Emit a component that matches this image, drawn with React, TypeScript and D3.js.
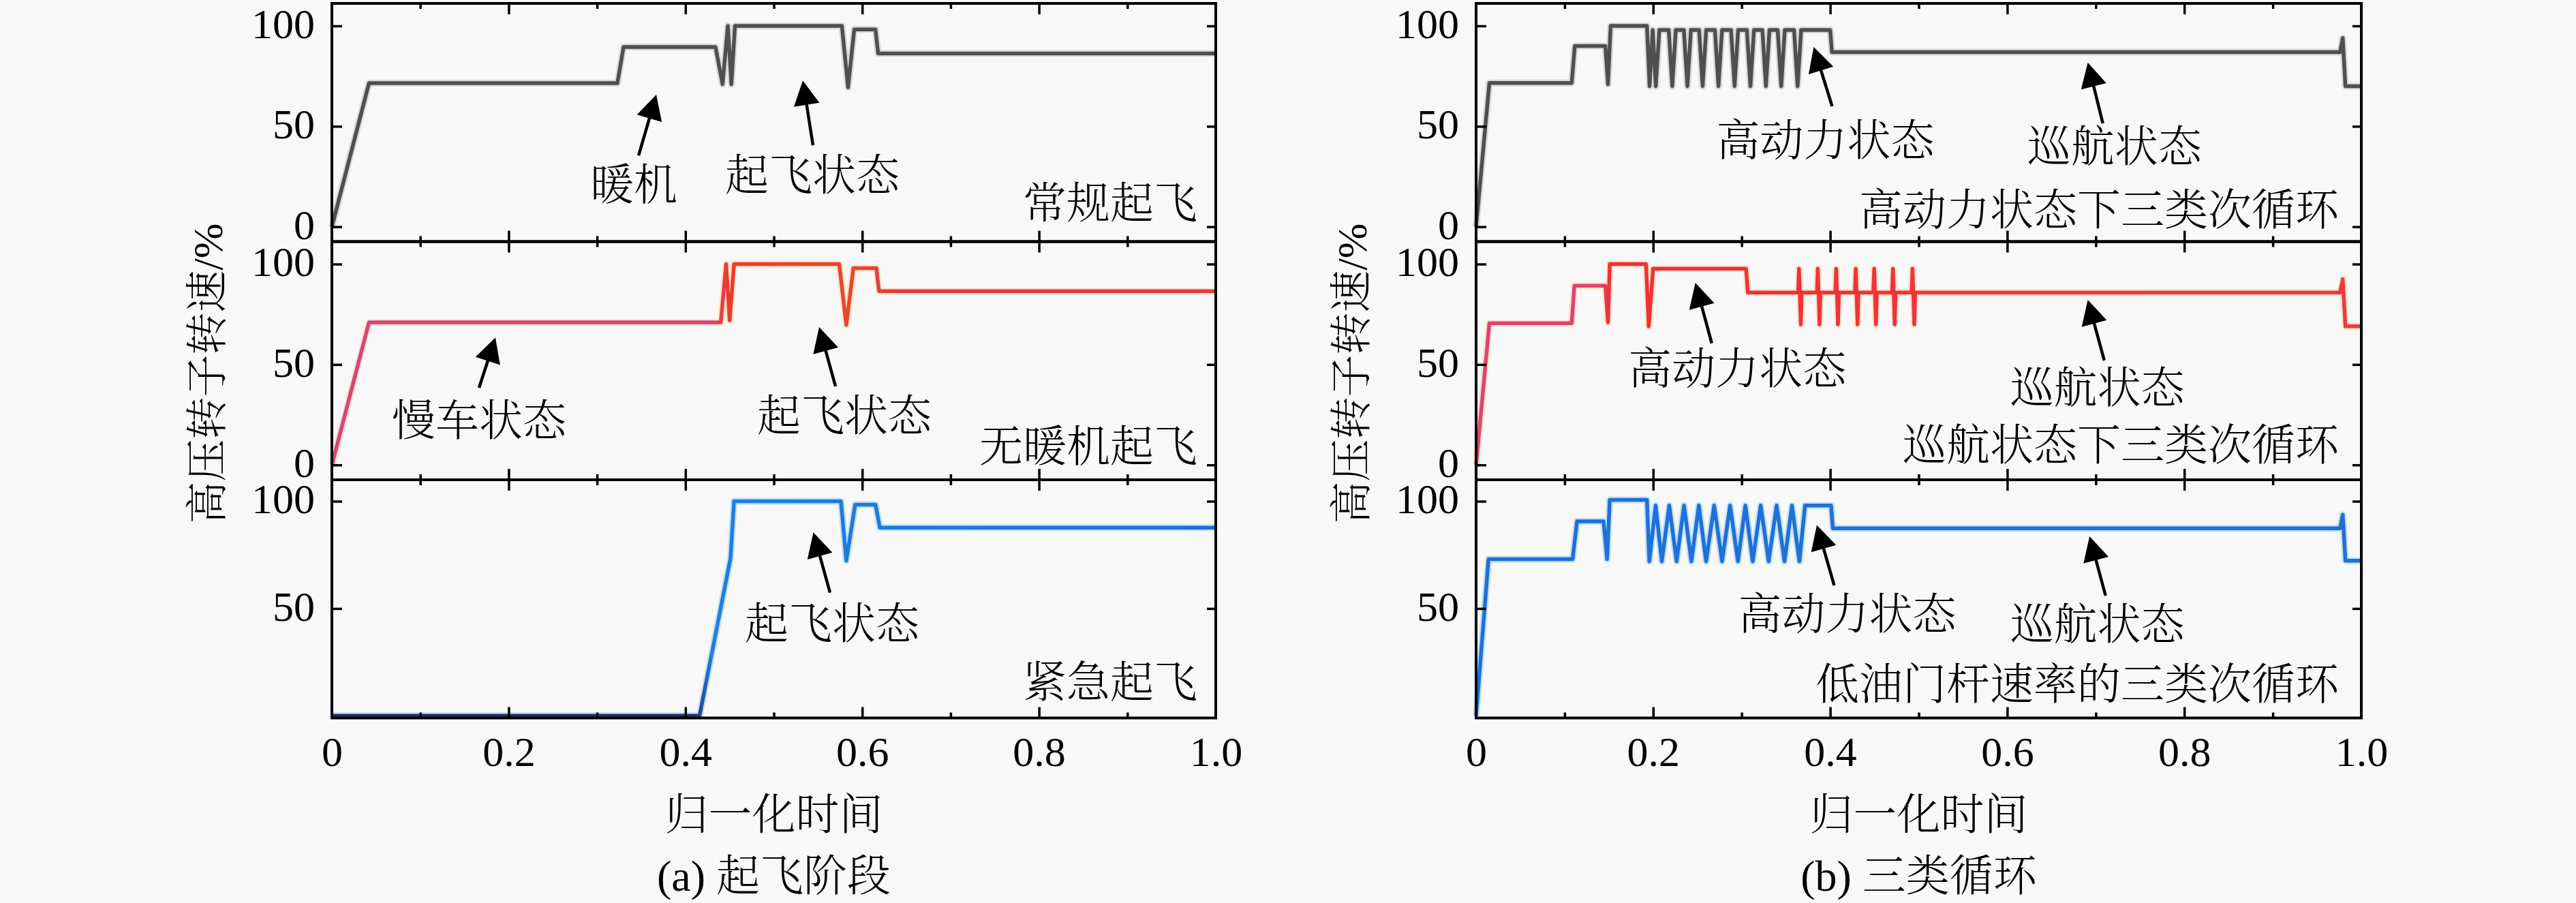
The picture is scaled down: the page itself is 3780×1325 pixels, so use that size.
import React, { useEffect, useRef } from 'react'
import * as d3 from 'd3'

type Pt = [number, number]

interface Note {
  text: string
  x: number
  y: number
  tail: Pt
  tip: Pt
}

const W = 3780
const H = 1325

const xTickValues = [0, 0.2, 0.4, 0.6, 0.8, 1.0]
const xTickLabels = ['0', '0.2', '0.4', '0.6', '0.8', '1.0']
const xMinorValues = [0.1, 0.3, 0.5, 0.7, 0.9]
const yTicksFull = [0, 50, 100]
const yTicksUpper = [50, 100]

const yLabel = '高压转子转速/%'
const xLabel = '归一化时间'
const subTitles = ['(a) 起飞阶段', '(b) 三类循环']

// (a) 起飞阶段
const normalTakeoff: Pt[] = [
  [0, 0], [0.042, 71.5], [0.323, 71.5], [0.33, 89.5], [0.434, 89.5],
  [0.442, 71], [0.448, 100], [0.452, 71], [0.456, 100], [0.577, 100],
  [0.584, 69.4], [0.591, 98.2], [0.615, 98.2], [0.618, 86.3], [1, 86.3]
]

const noWarmupTakeoff: Pt[] = [
  [0, 0], [0.042, 71], [0.44, 71], [0.446, 100], [0.45, 72], [0.455, 100],
  [0.574, 100], [0.582, 69.7], [0.59, 98], [0.616, 98], [0.619, 86.5], [1, 86.5]
]

const emergencyTakeoff: Pt[] = [
  [0, 0], [0.416, 0], [0.451, 73.5], [0.455, 100], [0.576, 100], [0.582, 72.3],
  [0.592, 98.4], [0.615, 98.4], [0.62, 87.7], [1, 87.7]
]

// (b) 三类循环
const highPowerSub: Pt[] = [
  [0, 0], [0.015, 71.6], [0.108, 71.6], [0.1115, 90], [0.146, 90], [0.149, 71],
  [0.152, 100], [0.193, 100], [0.196, 70], [0.1995, 98], [0.203, 70], [0.207, 98],
  [0.2176, 98], [0.2216, 70], [0.2256, 98],
  [0.2347, 98], [0.2387, 70], [0.2427, 98],
  [0.2519, 98], [0.2559, 70], [0.2599, 98],
  [0.2698, 98], [0.2738, 70], [0.2778, 98],
  [0.288, 98], [0.292, 70], [0.296, 98],
  [0.3059, 98], [0.3099, 70], [0.3139, 98],
  [0.3234, 98], [0.3274, 70], [0.3314, 98],
  [0.3407, 98], [0.3447, 70], [0.3487, 98],
  [0.3592, 98], [0.3632, 70], [0.3672, 98],
  [0.4, 98], [0.402, 86.9], [0.976, 86.9], [0.979, 94], [0.982, 70], [1, 70]
]

const cruiseSub: Pt[] = [
  [0, 0], [0.015, 70.6], [0.108, 70.6], [0.111, 89.2], [0.146, 89.2], [0.149, 71],
  [0.151, 100], [0.192, 100], [0.195, 69], [0.2, 97.7], [0.305, 97.7], [0.307, 85.8],
  [0.3638, 85.8], [0.3648, 97.7], [0.3668, 70], [0.3678, 85.8],
  [0.385, 85.8], [0.386, 97.7], [0.388, 70], [0.389, 85.8],
  [0.4058, 85.8], [0.4068, 97.7], [0.4088, 70], [0.4098, 85.8],
  [0.4279, 85.8], [0.4289, 97.7], [0.4309, 70], [0.4319, 85.8],
  [0.4487, 85.8], [0.4497, 97.7], [0.4517, 70], [0.4527, 85.8],
  [0.4699, 85.8], [0.4709, 97.7], [0.4729, 70], [0.4739, 85.8],
  [0.492, 85.8], [0.493, 97.7], [0.495, 70], [0.496, 85.8],
  [0.976, 85.8], [0.979, 92.5], [0.982, 69], [1, 69]
]

const lowThrottleSub: Pt[] = [
  [0, 0], [0.014, 73], [0.109, 73], [0.114, 90.6], [0.144, 90.6], [0.148, 73],
  [0.151, 100.6], [0.193, 100.6],
  [0.1957, 72], [0.2028, 98], [0.2098, 72], [0.2182, 98], [0.2265, 72], [0.2349, 98],
  [0.2432, 72], [0.2516, 98], [0.2599, 72], [0.2689, 98], [0.2779, 72], [0.2869, 98],
  [0.2958, 72], [0.3042, 98], [0.3125, 72], [0.3215, 98], [0.3305, 72], [0.3395, 98],
  [0.3484, 72], [0.3568, 98], [0.3652, 72], [0.3716, 98],
  [0.401, 98], [0.403, 87.4], [0.976, 87.4], [0.979, 93.7], [0.982, 72.3], [1, 72.3]
]

const titlesA = ['常规起飞', '无暖机起飞', '紧急起飞']
const titleLevelsA = [12.1, 9.6, 16]
const titlesB = ['高动力状态下三类次循环', '巡航状态下三类次循环', '低油门杆速率的三类次循环']
const titleLevelsB = [8.7, 10.2, 15]

const notesNormal: Note[] = [
  { text: '暖机', x: 0.3416, y: 21.2, tail: [0.347, 35.5], tip: [0.367, 65.7] },
  { text: '起飞状态', x: 0.5436, y: 26, tail: [0.5443, 40.6], tip: [0.5328, 72.8] }
]
const notesNoWarmup: Note[] = [
  { text: '慢车状态', x: 0.1665, y: 22.5, tail: [0.1665, 38.4], tip: [0.185, 63.4] },
  { text: '起飞状态', x: 0.5798, y: 24.8, tail: [0.5698, 39.1], tip: [0.5513, 68.6] }
]
const notesEmergency: Note[] = [
  { text: '起飞状态', x: 0.566, y: 43.3, tail: [0.5636, 57.4], tip: [0.5447, 85.5] }
]
const notesHighPower: Note[] = [
  { text: '高动力状态', x: 0.3945, y: 43.3, tail: [0.4022, 60], tip: [0.3814, 89.5] },
  { text: '巡航状态', x: 0.7211, y: 40.3, tail: [0.708, 51.5], tip: [0.691, 81.8] }
]
const notesCruise: Note[] = [
  { text: '高动力状态', x: 0.2951, y: 48.3, tail: [0.2662, 60.6], tip: [0.2477, 90.7] },
  { text: '巡航状态', x: 0.7018, y: 38.8, tail: [0.7096, 52], tip: [0.691, 82.2] }
]
const notesLowThrottle: Note[] = [
  { text: '高动力状态', x: 0.4191, y: 47.8, tail: [0.4045, 60.8], tip: [0.3849, 88.9] },
  { text: '巡航状态', x: 0.7018, y: 43, tail: [0.7111, 56], tip: [0.693, 83.6] }
]

const GRAY = '#4f4f4f'
const stopsGray: [number, string][] = [[0, GRAY], [1, GRAY]]
const stopsRedA: [number, string][] = [
  [0, '#d8447c'], [0.43, '#d8447c'], [0.45, '#ee3a24'], [0.6, '#e9482a'], [0.63, '#e23c44'], [1, '#e23c44']
]
const stopsBlueA: [number, string][] = [
  [0, '#2c2a70'], [0.41, '#2c2a70'], [0.43, '#1e7fe0'], [1, '#1c6fd4']
]
const stopsRedB: [number, string][] = [
  [0, '#dc4478'], [0.14, '#dc4478'], [0.15, '#f03038'], [1, '#ee3a3e']
]
const stopsBlueB: [number, string][] = [[0, '#1f70d8'], [1, '#1f70d8']]

const PANEL_TOP = 5
const PANEL_H = 349.5
const SERIF = "'Liberation Serif', 'Times New Roman', serif"
const CJK = "'Liberation Serif', 'Noto Serif CJK SC', 'Noto Sans CJK SC', serif"

const charts = [
  {
    left: 487, right: 1784,
    panels: [
      { series: normalTakeoff, stops: stopsGray, halo: '#d8d8d8', notes: notesNormal, title: titlesA[0], titleY: titleLevelsA[0], yTicks: yTicksFull },
      { series: noWarmupTakeoff, stops: stopsRedA, halo: '#fbe2c6', notes: notesNoWarmup, title: titlesA[1], titleY: titleLevelsA[1], yTicks: yTicksFull },
      { series: emergencyTakeoff, stops: stopsBlueA, halo: '#bfe0f7', notes: notesEmergency, title: titlesA[2], titleY: titleLevelsA[2], yTicks: yTicksUpper }
    ]
  },
  {
    left: 2166, right: 3465,
    panels: [
      { series: highPowerSub, stops: stopsGray, halo: '#d8d8d8', notes: notesHighPower, title: titlesB[0], titleY: titleLevelsB[0], yTicks: yTicksFull },
      { series: cruiseSub, stops: stopsRedB, halo: '#fbe2c6', notes: notesCruise, title: titlesB[1], titleY: titleLevelsB[1], yTicks: yTicksFull },
      { series: lowThrottleSub, stops: stopsBlueB, halo: '#bfe0f7', notes: notesLowThrottle, title: titlesB[2], titleY: titleLevelsB[2], yTicks: yTicksUpper }
    ]
  }
]

function drawArrow(g: d3.Selection<SVGGElement, unknown, null, undefined>, from: Pt, to: Pt) {
  const [tx, ty] = from
  const [hx, hy] = to
  const dx = hx - tx
  const dy = hy - ty
  const len = Math.hypot(dx, dy)
  const ux = dx / len
  const uy = dy / len
  const headLen = 36
  const headW = 19
  const bx = hx - ux * headLen
  const by = hy - uy * headLen
  g.append('line')
    .attr('x1', tx).attr('y1', ty)
    .attr('x2', bx + ux * 4).attr('y2', by + uy * 4)
    .attr('stroke', '#000')
    .attr('stroke-width', 4.5)
  const p = d3.path()
  p.moveTo(hx, hy)
  p.lineTo(bx - uy * headW, by + ux * headW)
  p.lineTo(bx + uy * headW, by - ux * headW)
  p.closePath()
  g.append('path').attr('d', p.toString()).attr('fill', '#000')
}

export default function App() {
  const svgRef = useRef<SVGSVGElement>(null)

  useEffect(() => {
    document.body.style.margin = '0'
    document.body.style.overflow = 'hidden'
    if (!svgRef.current) return

    const svg = d3.select(svgRef.current)
    svg.selectAll('*').remove()
    svg.append('rect').attr('width', W).attr('height', H).attr('fill', '#f8f8f8')
    const defs = svg.append('defs')

    charts.forEach((chart, ci) => {
      const x = d3.scaleLinear().domain([0, 1]).range([chart.left, chart.right])
      const cg = svg.append('g')

      chart.panels.forEach((panel, pi) => {
        const top = PANEL_TOP + pi * PANEL_H
        const bottom = top + PANEL_H
        const y = d3.scaleLinear()
          .domain(pi === 2 ? [-1, 110] : [-7.4, 111.2])
          .range([bottom, top])
        const g = cg.append('g')

        // gradient along x for the line colour
        const gid = `grad-${ci}-${pi}`
        const grad = defs.append('linearGradient')
          .attr('id', gid)
          .attr('gradientUnits', 'userSpaceOnUse')
          .attr('x1', chart.left).attr('x2', chart.right)
          .attr('y1', 0).attr('y2', 0)
        panel.stops.forEach(([o, c]) => {
          grad.append('stop').attr('offset', o).attr('stop-color', c)
        })

        const line = d3.line<Pt>()
          .x(d => x(d[0]))
          .y(d => y(d[1]))

        g.append('path')
          .datum(panel.series)
          .attr('d', line)
          .attr('fill', 'none')
          .attr('stroke', panel.halo)
          .attr('stroke-width', 10)
          .attr('stroke-linejoin', 'round')

        g.append('path')
          .datum(panel.series)
          .attr('d', line)
          .attr('fill', 'none')
          .attr('stroke', `url(#${gid})`)
          .attr('stroke-width', 5.5)
          .attr('stroke-linejoin', 'round')

        // inward ticks
        const tickStyle = (sel: d3.Selection<SVGGElement, unknown, null, undefined>) => {
          sel.select('.domain').remove()
          sel.selectAll('line').attr('stroke', '#000').attr('stroke-width', 3.5)
        }
        g.append('g').attr('transform', `translate(0,${bottom})`)
          .call(d3.axisTop(x).tickValues(xTickValues.slice(1, -1)).tickSize(16).tickFormat(() => ''))
          .call(tickStyle)
        g.append('g').attr('transform', `translate(0,${bottom})`)
          .call(d3.axisTop(x).tickValues(xMinorValues).tickSize(8).tickFormat(() => ''))
          .call(tickStyle)
        g.append('g').attr('transform', `translate(0,${top})`)
          .call(d3.axisBottom(x).tickValues(xTickValues.slice(1, -1)).tickSize(16).tickFormat(() => ''))
          .call(tickStyle)
        g.append('g').attr('transform', `translate(0,${top})`)
          .call(d3.axisBottom(x).tickValues(xMinorValues).tickSize(8).tickFormat(() => ''))
          .call(tickStyle)
        g.append('g').attr('transform', `translate(${chart.left},0)`)
          .call(d3.axisRight(y).tickValues(panel.yTicks).tickSize(15).tickFormat(() => ''))
          .call(tickStyle)
        g.append('g').attr('transform', `translate(${chart.right},0)`)
          .call(d3.axisLeft(y).tickValues(panel.yTicks).tickSize(13).tickFormat(() => ''))
          .call(tickStyle)

        // y tick labels
        const yl = g.append('g').attr('transform', `translate(${chart.left},0)`)
          .call(d3.axisLeft(y).tickValues(panel.yTicks).tickSize(0).tickPadding(25).tickFormat(d3.format('d')))
        yl.select('.domain').remove()
        yl.attr('font-family', SERIF).attr('font-size', 62)
        yl.selectAll('text').attr('fill', '#000').attr('dy', '0.28em')

        // frame
        g.append('rect')
          .attr('x', chart.left).attr('y', top)
          .attr('width', chart.right - chart.left).attr('height', PANEL_H)
          .attr('fill', 'none')
          .attr('stroke', '#000')
          .attr('stroke-width', 4)

        // annotations
        panel.notes.forEach(n => {
          g.append('text')
            .attr('x', x(n.x)).attr('y', y(n.y))
            .attr('dy', '0.36em')
            .attr('text-anchor', 'middle')
            .attr('font-family', CJK)
            .attr('font-weight', 300)
            .attr('font-size', 64)
            .attr('fill', '#000')
            .text(n.text)
          drawArrow(g, [x(n.tail[0]), y(n.tail[1])], [x(n.tip[0]), y(n.tip[1])])
        })

        g.append('text')
          .attr('x', chart.right - (ci === 0 ? 27 : 33)).attr('y', y(panel.titleY))
          .attr('dy', '0.36em')
          .attr('text-anchor', 'end')
          .attr('font-family', CJK)
          .attr('font-weight', 300)
          .attr('font-size', 64)
          .attr('fill', '#000')
          .text(panel.title)

        if (pi === 2) {
          const xl = g.append('g').attr('transform', `translate(0,${bottom})`)
            .call(d3.axisBottom(x).tickValues(xTickValues).tickSize(0).tickPadding(26)
              .tickFormat((_, i) => xTickLabels[i]))
          xl.select('.domain').remove()
          xl.attr('font-family', SERIF).attr('font-size', 62)
          xl.selectAll('text').attr('fill', '#000')
        }
      })

      const cx = (chart.left + chart.right) / 2
      cg.append('text')
        .attr('x', cx).attr('y', 1217)
        .attr('text-anchor', 'middle')
        .attr('font-family', CJK)
        .attr('font-weight', 300)
        .attr('font-size', 64)
        .text(xLabel)
      cg.append('text')
        .attr('x', cx).attr('y', 1307)
        .attr('text-anchor', 'middle')
        .attr('font-family', CJK)
        .attr('font-weight', 300)
        .attr('font-size', 64)
        .text(subTitles[ci])
      cg.append('text')
        .attr('transform', `translate(${chart.left - 183},548) rotate(-90)`)
        .attr('dy', '0.36em')
        .attr('text-anchor', 'middle')
        .attr('font-family', CJK)
        .attr('font-weight', 300)
        .attr('font-size', 62)
        .text(yLabel)
    })
  }, [])

  return <svg ref={svgRef} width={W} height={H} style={{ display: 'block' }} />
}
